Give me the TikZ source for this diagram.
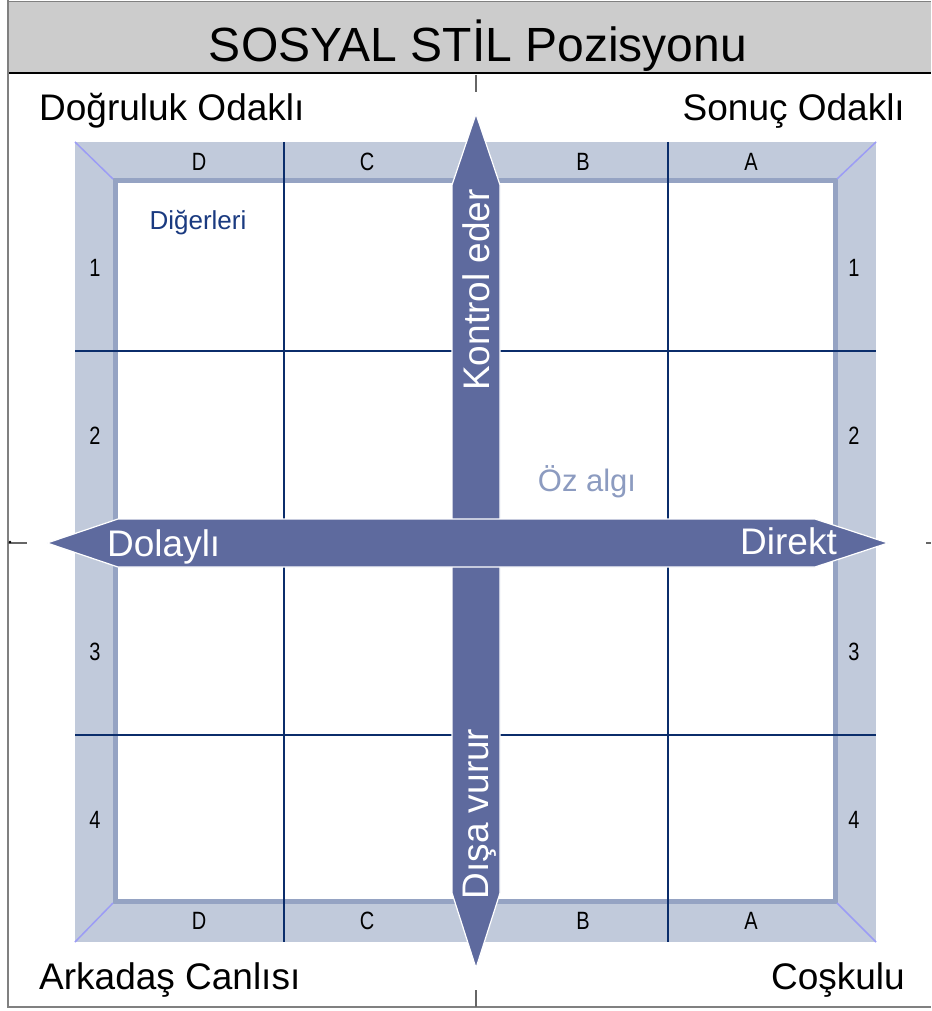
\documentclass[tikz,border=0pt]{standalone}
\usepackage{fontspec}
\setmainfont{Liberation Sans}
\newfontfamily\narrowfont[FakeStretch=0.8]{Liberation Sans}
\newcommand\myfs[1]{\fontsize{#1}{#1}\selectfont}
\definecolor{bandc}{HTML}{C1CADB}
\definecolor{innerc}{HTML}{95A3C3}
\definecolor{diagc}{HTML}{9C9CF5}
\definecolor{gridc}{HTML}{0B2D6B}
\definecolor{arrowc}{HTML}{5E6A9E}
\definecolor{headc}{HTML}{CCCCCC}
\definecolor{othc}{HTML}{1A3A80}
\definecolor{selfc}{HTML}{8C9BC0}
\tikzset{
  gridline/.style={draw=gridc, line width=2pt},
  diagline/.style={draw=diagc, line width=1.5pt},
  axisarrow/.style={fill=arrowc, draw=white, line width=1.2pt, line join=miter},
  bandlabel/.style={font=\narrowfont\myfs{25}, text=black, inner sep=0pt, anchor=center},
  cornerlabel/.style={font=\myfs{37}, text=black, inner sep=0pt},
  axistext/.style={font=\myfs{37}, text=white, inner sep=0pt},
  frameline/.style={draw=black!50, line width=1.2pt},
  tick/.style={draw=black!60, line width=1.5pt}
}
\begin{document}
\begin{tikzpicture}[x=1pt,y=-1pt]
\useasboundingbox (0,0) rectangle (931,1011);
% header
\fill[headc] (8,2) rectangle (931,73);
\draw[frameline] (8,1.5) -- (931,1.5);
\draw[black, line width=2.5pt] (8,73) -- (931,73);
\node[font=\myfs{48}, text=black, inner sep=0pt, anchor=base] (title) at (478,62) {SOSYAL STİL Pozisyonu};
% outer frame
\draw[frameline] (8,0) -- (8,1007) -- (931,1007);
% band
\fill[bandc] (75,142) rectangle (876,942);
\fill[white] (115,181) rectangle (835,901);
\draw[innerc, line width=5pt] (115,181) rectangle (835,901);
% diagonals
\draw[diagline] (75,142) -- (113,179);
\draw[diagline] (876,142) -- (837,179);
\draw[diagline] (75,942) -- (113,903);
\draw[diagline] (876,942) -- (837,903);
% grid
\draw[gridline] (284,142) -- (284,942);
\draw[gridline] (668,142) -- (668,942);
\draw[gridline] (75,351) -- (876,351);
\draw[gridline] (75,735) -- (876,735);
% band labels
\node[bandlabel] (tD) at (199,162) {D};
\node[bandlabel] (tC) at (367,162) {C};
\node[bandlabel] (tB) at (583,162) {B};
\node[bandlabel] (tA) at (751,162) {A};
\node[bandlabel] (bD) at (199,921) {D};
\node[bandlabel] (bC) at (367,921) {C};
\node[bandlabel] (bB) at (583,921) {B};
\node[bandlabel] (bA) at (751,921) {A};
\node[bandlabel] (l1) at (95,268) {1};
\node[bandlabel] (l2) at (95,436) {2};
\node[bandlabel] (l3) at (95,652) {3};
\node[bandlabel] (l4) at (95,820) {4};
\node[bandlabel] (r1) at (854,268) {1};
\node[bandlabel] (r2) at (854,436) {2};
\node[bandlabel] (r3) at (854,652) {3};
\node[bandlabel] (r4) at (854,820) {4};
% arrows
\path[axisarrow] (476,114) -- (500,185) -- (500,893) -- (476,968) -- (452,893) -- (452,185) -- cycle;
\path[axisarrow] (47,543) -- (118,519) -- (815,519) -- (888,543) -- (815,567) -- (118,567) -- cycle;
\fill[arrowc] (452.6,519.6) rectangle (499.4,566.4);
% arrow texts
\node[axistext, rotate=90, anchor=base] (up) at (489,290) {Kontrol eder};
\node[axistext, rotate=90, anchor=base] (down) at (488,814) {Dışa vurur};
\node[axistext, anchor=base west] (left) at (107,556) {Dolaylı};
\node[axistext, anchor=base east] (right) at (837,554) {Direkt};
% inner texts
\node[font=\myfs{26}, text=othc, inner sep=0pt, anchor=base] (others) at (198,229) {Diğerleri};
\node[font=\myfs{31}, text=selfc, inner sep=0pt, anchor=base] (self) at (587,491) {Öz algı};
% corner labels
\node[cornerlabel, anchor=base west] (tl) at (39,121) {Doğruluk Odaklı};
\node[cornerlabel, anchor=base east] (tr) at (905,121) {Sonuç Odaklı};
\node[cornerlabel, anchor=base west] (bl) at (39,989) {Arkadaş Canlısı};
\node[cornerlabel, anchor=base east] (br) at (905,989) {Coşkulu};
% ticks
\draw[tick] (476,75) -- (476,92);
\draw[tick] (476,990) -- (476,1007);
\draw[tick] (8,543) -- (27,543);
\fill[black] (10,542) circle (1.3);
\draw[tick] (926,543) -- (931,543);
\end{tikzpicture}
\end{document}
